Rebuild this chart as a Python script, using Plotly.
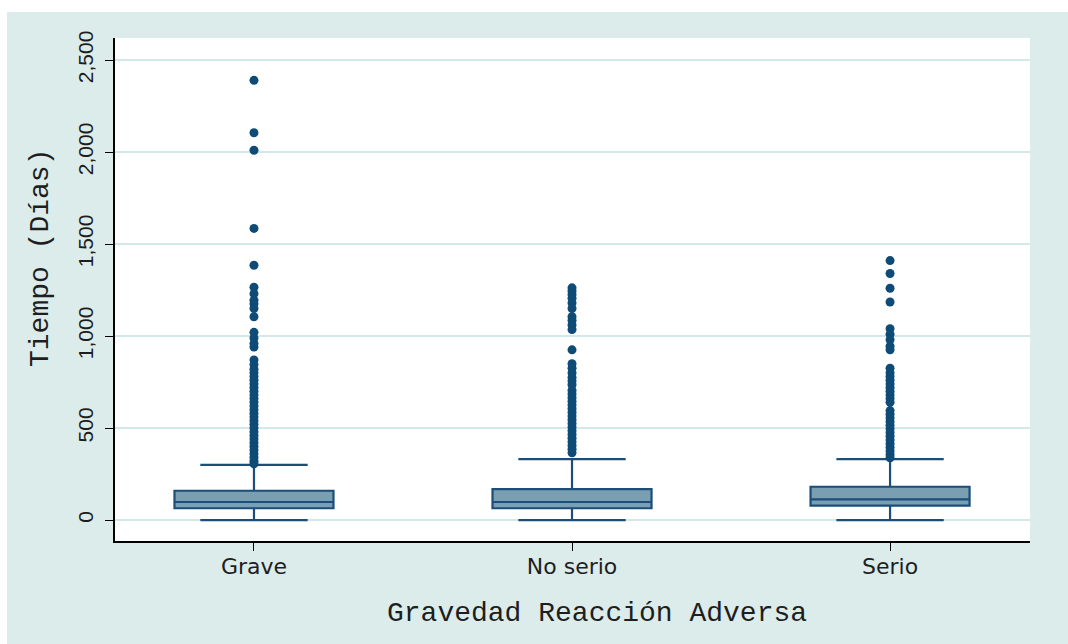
import plotly.graph_objects as go

# ---- data ----
categories = ["Grave", "No serio", "Serio"]
q1 = [64, 64, 78]
median = [98, 98, 112]
q3 = [159, 168, 181]
lower_whisker = [0, 0, 0]
upper_whisker = [300, 331, 331]

outliers_grave = [2390, 2105, 2010, 1585, 1385, 1265, 1230, 1195, 1175, 1150, 1105,
                  1020, 990, 960, 940, 870, 845, 820, 800, 780, 760, 740, 720, 700,
                  680, 660, 640, 620, 600, 580, 560, 540, 520, 500, 480, 460, 440,
                  420, 400, 380, 360, 340, 320, 305]
outliers_noserio = [1262, 1245, 1225, 1205, 1180, 1150, 1105, 1085, 1060, 1035, 925,
                    850, 825, 800, 775, 755, 735, 705, 685, 665, 645, 625, 605, 585,
                    565, 545, 525, 505, 485, 465, 445, 425, 405, 385, 365]
outliers_serio = [1410, 1340, 1260, 1185, 1040, 1010, 980, 945, 925, 825, 800, 780,
                  760, 740, 720, 700, 680, 660, 640, 595, 575, 555, 535, 515, 495,
                  475, 455, 435, 415, 395, 375, 355, 338]

y_ticks = [0, 500, 1000, 1500, 2000, 2500]

x_title = "Gravedad Reacción Adversa"
y_title = "Tiempo (Días)"

# ---- styling ----
BG = "#dbeceb"
LINE = "#1b4e78"
FILL = "#7a9fb2"
DOT = "#0e4b77"
TXT = "#1e1e1e"

fig = go.Figure()
fig.add_trace(go.Box(
    x=categories, q1=q1, median=median, q3=q3,
    lowerfence=lower_whisker, upperfence=upper_whisker,
    boxpoints=False, fillcolor=FILL, line=dict(color=LINE, width=2.2),
    whiskerwidth=0.675, width=0.5, showlegend=False, hoverinfo="skip",
))

out_x = (["Grave"] * len(outliers_grave) + ["No serio"] * len(outliers_noserio)
         + ["Serio"] * len(outliers_serio))
out_y = outliers_grave + outliers_noserio + outliers_serio
fig.add_trace(go.Scatter(
    x=out_x, y=out_y, mode="markers",
    marker=dict(color=DOT, size=9, line=dict(width=0)),
    showlegend=False,
))

W, H = 1068, 644
L, R, T, B = 115, 1068 - 1030, 38, 644 - 541
pw, ph = W - L - R, H - T - B


def px_x(p):  # page pixel -> paper x
    return (p - L) / pw


def px_y(q):  # page pixel -> paper y
    return (H - B - q) / ph


fig.update_layout(
    width=W, height=H,
    margin=dict(l=L, r=R, t=T, b=B, autoexpand=False),
    paper_bgcolor=BG, plot_bgcolor="white",
    shapes=[
        dict(type="rect", xref="paper", yref="paper", x0=px_x(-2), x1=px_x(W + 2),
             y0=px_y(12), y1=px_y(-2), fillcolor="white", line=dict(width=0), layer="above"),
        dict(type="rect", xref="paper", yref="paper", x0=px_x(-2), x1=px_x(7),
             y0=px_y(H + 2), y1=px_y(-2), fillcolor="white", line=dict(width=0), layer="above"),
    ],
    annotations=[
        dict(text=y_title, xref="paper", yref="paper", x=px_x(40), y=px_y(258),
             xanchor="center", yanchor="middle", textangle=-90, showarrow=False,
             font=dict(family="Liberation Mono", size=28, color=TXT)),
        dict(text=x_title, xref="paper", yref="paper", x=px_x(597), y=px_y(613),
             xanchor="center", yanchor="middle", showarrow=False,
             font=dict(family="Liberation Mono", size=28, color=TXT)),
    ],
    xaxis=dict(
        type="category", categoryorder="array", categoryarray=categories,
        range=[-0.437, 2.44], showgrid=False, zeroline=False,
        showline=True, linecolor="black", linewidth=1.5,
        ticks="outside", ticklen=8, tickcolor="black", tickwidth=1,
        tickfont=dict(family="DejaVu Sans", size=22, color=TXT),
        ticklabelstandoff=-3,
        automargin=False,
    ),
    yaxis=dict(
        range=[-114, 2620], tickvals=y_ticks, tickformat=",",
        tickangle=-90, showgrid=True, gridcolor="#d3e9e9", gridwidth=1.5,
        zeroline=False, showline=True, linecolor="black", linewidth=1.5,
        ticks="outside", ticklen=8, tickcolor="black", tickwidth=1,
        tickfont=dict(family="Liberation Sans", size=21, color=TXT),
        ticklabelstandoff=4,
        automargin=False,
    ),
)

fig.write_html(
    "out.html",
    config={"displayModeBar": False},
    post_script="document.body.style.margin='0';document.body.style.overflow='hidden';",
)
